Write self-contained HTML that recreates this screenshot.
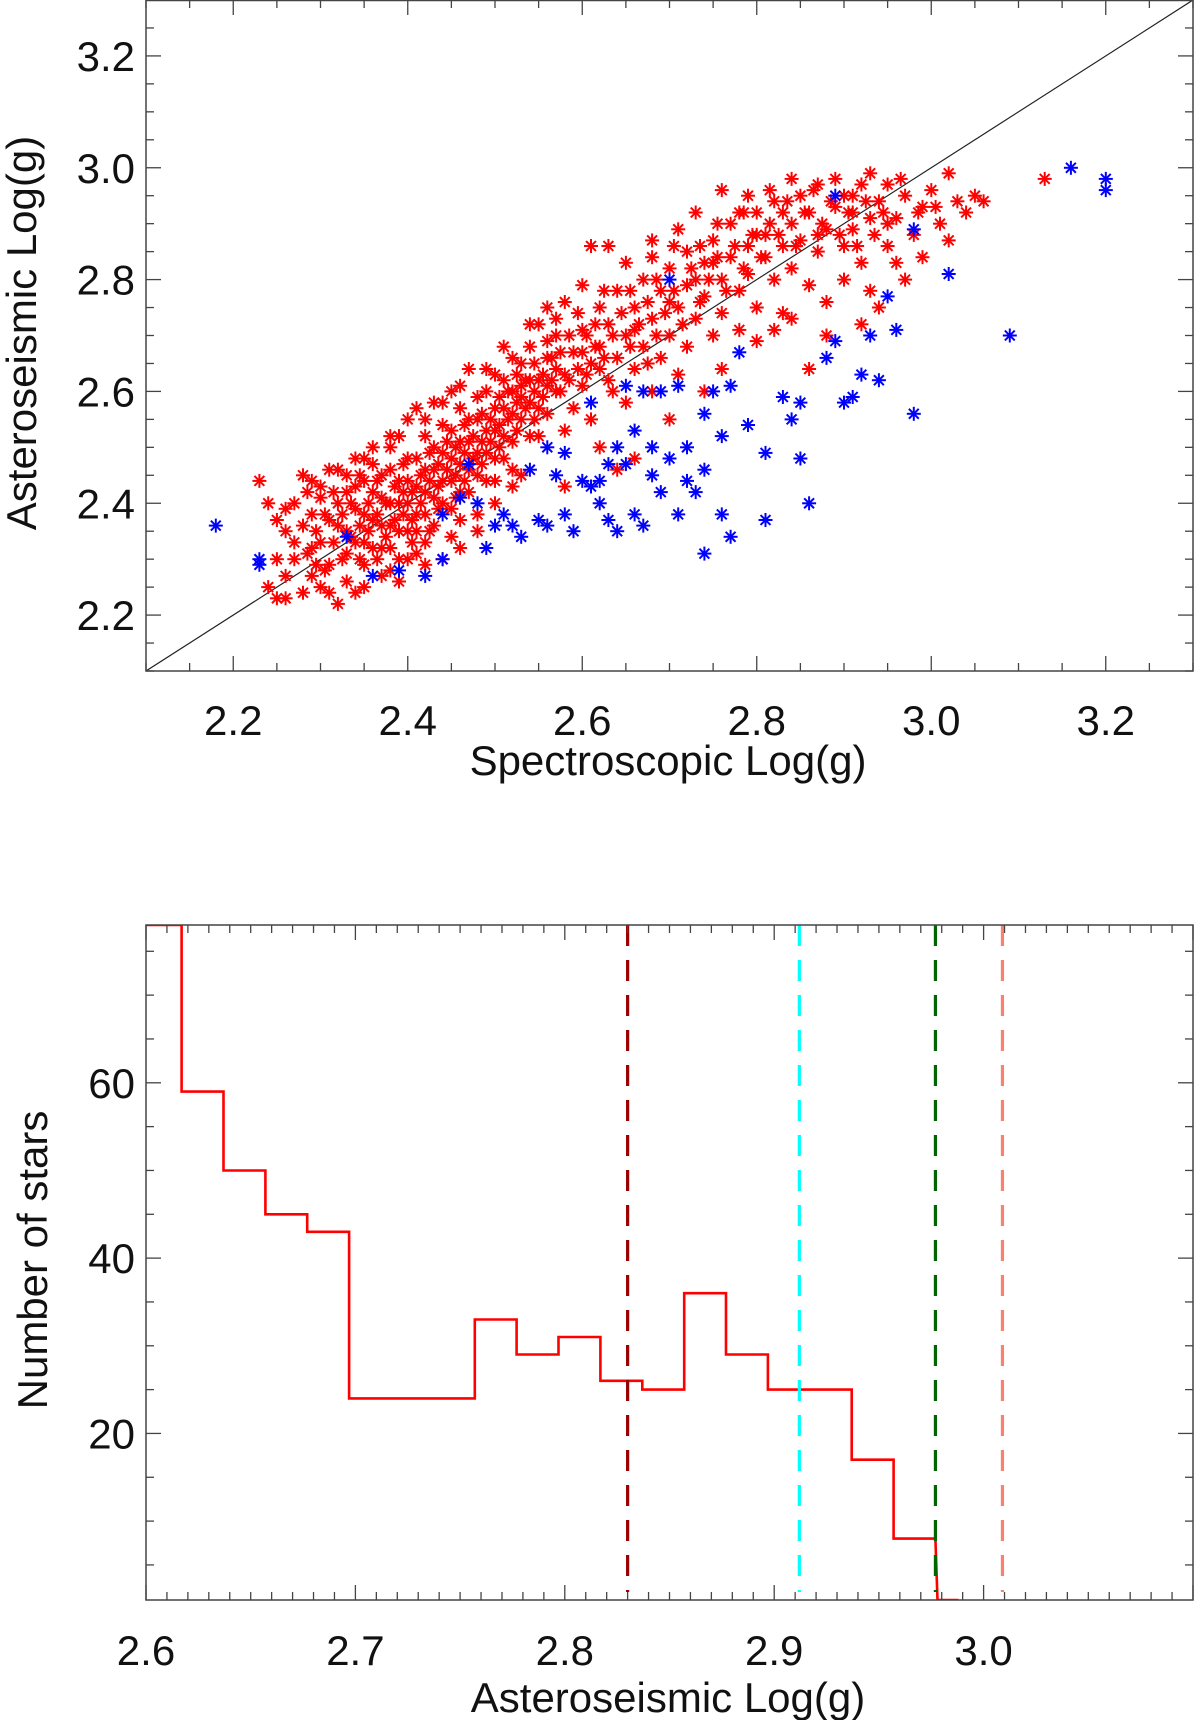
<!DOCTYPE html>
<html><head><meta charset="utf-8">
<style>
html,body{margin:0;padding:0;background:#fff;}
svg{display:block;}
text{font-family:"Liberation Sans",sans-serif;fill:#111;}
</style></head>
<body>
<svg id="fig" width="1200" height="1720" viewBox="0 0 1200 1720" xmlns="http://www.w3.org/2000/svg">
<g id="top"></g>
<g id="bot"></g>
</svg>
<script>
// ---------- data: scatter ----------
const redX = [2.23,2.24,2.25,2.26,2.26,2.27,2.28,2.28,2.29,2.29,2.30,2.30,2.30,2.31,2.31,2.32,2.32,2.33,2.33,2.33,2.34,2.34,2.35,2.35,2.35,2.36,2.36,2.37,2.37,2.37,2.38,2.38,2.39,2.39,2.39,2.40,2.40,2.40,2.41,2.41,2.41,2.42,2.42,2.43,2.43,2.43,2.44,2.44,2.45,2.45,2.45,2.46,2.46,2.47,2.47,2.48,2.48,2.48,2.49,2.49,2.50,2.50,2.50,2.51,2.51,2.52,2.52,2.53,2.53,2.53,2.54,2.54,2.55,2.55,2.56,2.56,2.57,2.57,2.58,2.58,2.59,2.59,2.60,2.60,2.61,2.61,2.61,2.62,2.62,2.63,2.63,2.64,2.64,2.65,2.65,2.66,2.66,2.67,2.67,2.68,2.68,2.69,2.69,2.70,2.70,2.71,2.71,2.72,2.72,2.72,2.73,2.74,2.74,2.75,2.75,2.76,2.76,2.77,2.77,2.78,2.78,2.79,2.79,2.80,2.80,2.81,2.81,2.82,2.82,2.83,2.83,2.84,2.84,2.85,2.85,2.86,2.86,2.87,2.87,2.88,2.88,2.89,2.89,2.90,2.90,2.91,2.91,2.92,2.92,2.93,2.93,2.94,2.95,2.95,2.96,2.96,2.97,2.98,2.99,3.00,3.01,3.02,3.03,3.05,3.06,3.13,2.57,2.63,2.64,2.66,2.70,2.74,2.76,2.78,2.82,2.86,2.92,2.62,2.58,
2.31,2.32,2.33,2.34,2.34,2.35,2.36,2.36,2.37,2.37,2.38,2.38,2.39,2.39,2.40,2.40,2.41,2.41,2.42,2.42,2.43,2.43,2.44,2.44,2.45,2.45,2.46,2.46,2.47,2.47,2.48,2.48,2.49,2.49,2.50,2.50,2.51,2.51,2.52,2.52,2.53,2.54,2.54,2.55,2.56,2.56,2.44,2.42,2.46,2.38,2.40,2.35,2.29,2.28,2.27,2.25,2.26,2.31,2.36,2.33,2.30,2.38,2.41,2.45,2.47,2.52,2.55,2.58,2.60,2.65,2.68,2.71,2.73,2.76,2.79,2.84,2.80,2.84,2.88,2.94,2.97,2.99,3.02,3.04,2.90,2.93,2.70,2.66,2.62,2.68,2.73,2.75,2.80,2.83,2.87,2.91,2.95,2.60,2.57,2.53];
const redY = [2.44,2.40,2.23,2.35,2.23,2.30,2.24,2.45,2.38,2.27,2.33,2.41,2.25,2.46,2.29,2.36,2.22,2.42,2.31,2.26,2.48,2.39,2.44,2.33,2.29,2.37,2.50,2.41,2.32,2.27,2.46,2.36,2.52,2.40,2.30,2.44,2.35,2.55,2.48,2.38,2.31,2.42,2.52,2.46,2.36,2.58,2.49,2.40,2.53,2.44,2.34,2.47,2.57,2.42,2.51,2.55,2.45,2.38,2.60,2.49,2.53,2.44,2.63,2.57,2.48,2.60,2.51,2.65,2.55,2.45,2.58,2.68,2.62,2.52,2.66,2.56,2.60,2.70,2.63,2.53,2.67,2.57,2.71,2.61,2.86,2.65,2.55,2.75,2.68,2.62,2.72,2.78,2.66,2.58,2.70,2.75,2.64,2.80,2.68,2.73,2.60,2.78,2.66,2.82,2.70,2.75,2.63,2.85,2.79,2.68,2.73,2.83,2.77,2.87,2.70,2.80,2.74,2.84,2.90,2.78,2.71,2.86,2.81,2.92,2.75,2.84,2.88,2.80,2.94,2.86,2.74,2.90,2.82,2.95,2.87,2.79,2.92,2.85,2.97,2.89,2.76,2.98,2.93,2.86,2.80,2.95,2.89,2.83,2.97,2.91,2.78,2.94,2.97,2.86,2.91,2.83,2.95,2.88,2.93,2.96,2.90,2.99,2.94,2.95,2.94,2.98,2.73,2.86,2.46,2.48,2.55,2.60,2.64,2.92,2.71,2.64,2.72,2.50,2.43,
2.37,2.40,2.35,2.33,2.43,2.38,2.42,2.32,2.45,2.36,2.40,2.32,2.44,2.35,2.48,2.40,2.43,2.35,2.46,2.38,2.50,2.41,2.44,2.54,2.48,2.39,2.51,2.42,2.46,2.55,2.49,2.59,2.53,2.44,2.57,2.48,2.52,2.62,2.56,2.46,2.59,2.62,2.52,2.57,2.61,2.69,2.30,2.33,2.37,2.28,2.30,2.25,2.32,2.36,2.40,2.37,2.27,2.24,2.47,2.45,2.43,2.52,2.57,2.60,2.64,2.66,2.72,2.76,2.79,2.83,2.87,2.89,2.92,2.96,2.95,2.98,2.69,2.73,2.70,2.75,2.80,2.84,2.87,2.92,2.95,2.99,2.76,2.71,2.64,2.84,2.80,2.83,2.88,2.92,2.88,2.92,2.90,2.67,2.64,2.61];
const redX3 = [2.285,2.285,2.295,2.295,2.305,2.305,2.315,2.315,2.325,2.325,2.335,2.335,2.345,2.345,2.345,2.355,2.355,2.365,2.365,2.365,2.375,2.375,2.385,2.385,2.395,2.395,2.395,2.405,2.405,2.405,2.415,2.415,2.425,2.425,2.425,2.435,2.435,2.435,2.445,2.445,2.455,2.455,2.455,2.465,2.465,2.465,2.475,2.475,2.485,2.485,2.485,2.495,2.495,2.505,2.505,2.505,2.515,2.515,2.525,2.525,2.525,2.535,2.535,2.545,2.545,2.545,2.555,2.555,2.565,2.565,2.575,2.575,2.585,2.585,2.595,2.595,2.605,2.605,2.615,2.615,2.625,2.625,2.635,2.635,2.645,2.655,2.655,2.665,2.675,2.675,2.685,2.685,2.695,2.705,2.705,2.715,2.725,2.735,2.735,2.745,2.755,2.755,2.765,2.775,2.785,2.785,2.795,2.805,2.815,2.815,2.825,2.835,2.845,2.855,2.865,2.875,2.885,2.895,2.905,2.915,2.925,2.935,2.945,2.965,2.985,3.005,2.27,2.25,2.24,2.26,2.29,2.32,2.35,2.38,2.42,2.44,2.46,2.49,2.51,2.54,2.56,2.48,2.50,2.52,2.46,2.39,2.34,2.42];
const redY3 = [2.31,2.42,2.35,2.29,2.38,2.28,2.33,2.42,2.38,2.30,2.40,2.34,2.36,2.30,2.45,2.40,2.35,2.38,2.44,2.30,2.40,2.34,2.43,2.37,2.42,2.38,2.47,2.42,2.37,2.33,2.45,2.40,2.44,2.49,2.35,2.43,2.47,2.39,2.46,2.51,2.45,2.50,2.41,2.49,2.44,2.54,2.48,2.52,2.51,2.47,2.56,2.51,2.55,2.54,2.59,2.50,2.55,2.60,2.58,2.63,2.53,2.57,2.62,2.60,2.65,2.55,2.63,2.59,2.62,2.66,2.60,2.67,2.62,2.70,2.64,2.74,2.70,2.63,2.68,2.72,2.66,2.78,2.70,2.60,2.74,2.68,2.78,2.72,2.76,2.65,2.80,2.70,2.74,2.78,2.86,2.72,2.82,2.86,2.76,2.80,2.90,2.84,2.78,2.86,2.82,2.92,2.88,2.84,2.90,2.96,2.88,2.94,2.86,2.92,2.96,2.90,2.94,2.88,2.92,2.86,2.94,2.88,2.92,2.98,2.92,2.93,2.33,2.30,2.25,2.39,2.44,2.46,2.48,2.50,2.55,2.58,2.61,2.64,2.68,2.72,2.75,2.35,2.40,2.43,2.32,2.26,2.24,2.29];
const blueX = [2.18,2.23,2.23,2.33,2.36,2.39,2.42,2.44,2.46,2.47,2.49,2.51,2.52,2.53,2.55,2.56,2.57,2.58,2.59,2.60,2.61,2.62,2.63,2.64,2.64,2.65,2.66,2.66,2.67,2.68,2.68,2.69,2.70,2.70,2.71,2.71,2.72,2.73,2.74,2.74,2.74,2.75,2.76,2.76,2.77,2.77,2.78,2.79,2.81,2.81,2.83,2.84,2.85,2.85,2.86,2.88,2.89,2.89,2.93,2.95,2.96,2.98,2.98,3.02,3.09,3.16,3.20,3.20,2.61,2.65,2.67,2.56,2.54,2.48,2.44,2.50,2.58,2.69,2.72,2.90,2.91,2.94,2.92,2.62,2.63];
const blueY = [2.36,2.29,2.30,2.34,2.27,2.28,2.27,2.30,2.41,2.47,2.32,2.38,2.36,2.34,2.37,2.36,2.45,2.38,2.35,2.44,2.43,2.40,2.37,2.35,2.50,2.47,2.38,2.53,2.36,2.45,2.50,2.42,2.80,2.48,2.38,2.61,2.50,2.42,2.31,2.46,2.56,2.60,2.38,2.52,2.34,2.61,2.67,2.54,2.49,2.37,2.59,2.55,2.58,2.48,2.40,2.66,2.95,2.69,2.70,2.77,2.71,2.56,2.89,2.81,2.70,3.00,2.96,2.98,2.58,2.61,2.60,2.50,2.46,2.40,2.38,2.36,2.49,2.60,2.44,2.58,2.59,2.62,2.63,2.44,2.47];
const topTicks = ["2.2","2.4","2.6","2.8","3.0","3.2"];
// ---------- data: histogram ----------
const binCenters = [2.607,2.627,2.647,2.667,2.687,2.707,2.727,2.747,2.767,2.787,2.807,2.827,2.847,2.867,2.887,2.907,2.927,2.947,2.967,2.988];
const binCounts = [78,59,50,45,43,24,24,24,33,29,31,26,25,36,29,25,25,17,8,1];
const histXTicks = ["2.6","2.7","2.8","2.9","3.0"];
const histYTicks = ["20","40","60"];
const refLines = [2.830,2.912,2.977,3.009];
const refColors = ["#9a0000","#00ffff","#006400","#fa8072"];

const NS="http://www.w3.org/2000/svg";
function mk(tag, parent, attrs){const e=document.createElementNS(NS,tag);for(const k in attrs)e.setAttribute(k,attrs[k]);parent.appendChild(e);return e;}

// ----- top scatter -----
const T=document.getElementById('top');
const L=146,R=1193,TT=0,TB=671;
const sx=v=>L+(v-2.1)/1.2*(R-L);
const sy=v=>TB-(v-2.1)/1.2*(TB-TT);
function star(g,x,y,c,name){
  const s=mk('g',g,{transform:`translate(${x.toFixed(1)},${y.toFixed(1)})`,stroke:c,'stroke-width':2});
  
  
  const r=7,d=r*0.7071;
  mk('line',s,{x1:-r,y1:0,x2:r,y2:0});mk('line',s,{x1:0,y1:-r,x2:0,y2:r});
  mk('line',s,{x1:-d,y1:-d,x2:d,y2:d});mk('line',s,{x1:-d,y1:d,x2:d,y2:-d});
}
const clipT=mk('clipPath',T,{id:'ct'});mk('rect',clipT,{x:L,y:TT,width:R-L,height:TB-TT});
const pts=mk('g',T,{'clip-path':'url(#ct)'});


const dl=mk('line',pts,{x1:sx(2.1),y1:sy(2.1),x2:sx(3.3),y2:sy(3.3),stroke:'#222','stroke-width':1.2});


redX.forEach((v,i)=>star(pts,sx(v),sy(redY[i]),'#ff0000','red-star'));
redX3.forEach((v,i)=>star(pts,sx(v),sy(redY3[i]),'#ff0000','red-star'));
blueX.forEach((v,i)=>star(pts,sx(v),sy(blueY[i]),'#0000ff','blue-star'));
const fr=mk('rect',T,{x:L,y:TT+0.5,width:R-L,height:TB-TT-0.5,fill:'none',stroke:'#444','stroke-width':1.5});


for(let k=0;k<=24;k++){const v=2.1+k*0.05;const maj=(k%4==2);const len=maj?15:8;
  const x=sx(v),y=sy(v);
  mk('line',T,{x1:x,y1:TB,x2:x,y2:TB-len,stroke:'#444','stroke-width':1.3});
  mk('line',T,{x1:x,y1:TT,x2:x,y2:TT+len,stroke:'#444','stroke-width':1.3});
  mk('line',T,{x1:L,y1:y,x2:L+len,y2:y,stroke:'#444','stroke-width':1.3});
  mk('line',T,{x1:R,y1:y,x2:R-len,y2:y,stroke:'#444','stroke-width':1.3});
}
topTicks.forEach(t=>{const v=parseFloat(t);
  const a=mk('text',T,{x:sx(v),y:735,'font-size':42,'text-anchor':'middle'});a.textContent=t;
  
  
  const b=mk('text',T,{x:135,y:sy(v)+15,'font-size':42,'text-anchor':'end'});b.textContent=t;
  
  
});
const xt=mk('text',T,{x:668,y:775,'font-size':42,'text-anchor':'middle'});xt.textContent='Spectroscopic Log(g)';


const yt=mk('text',T,{x:0,y:0,'font-size':42,'text-anchor':'middle',transform:'translate(36,333) rotate(-90)'});yt.textContent='Asteroseismic Log(g)';



// ----- bottom histogram -----
const B=document.getElementById('bot');
const BT=925,BB=1600;
const hx=v=>L+(v-2.6)/0.5*(R-L);
const hy=v=>BB-(v-1)/77*(BB-BT);
const clipB=mk('clipPath',B,{id:'cb'});mk('rect',clipB,{x:L,y:BT,width:R-L,height:BB-BT});
const hg=mk('g',B,{'clip-path':'url(#cb)'});
let d='';
binCenters.forEach((c,i)=>{
  const last=(i==binCenters.length-1);
  const x0=last?2.978:c-0.01, x1=c+(last?0:0.01);
  d+=(i==0?'M':'L')+hx(x0).toFixed(1)+','+hy(binCounts[i]).toFixed(1)+'L'+hx(x1).toFixed(1)+','+hy(binCounts[i]).toFixed(1);
});
const hp=mk('path',hg,{d:d,fill:'none',stroke:'#ff0000','stroke-width':2.6});


refLines.forEach((v,i)=>{
  const l=mk('line',hg,{x1:hx(v),y1:BT,x2:hx(v),y2:BB-8,stroke:refColors[i],'stroke-width':3.2,'stroke-dasharray':'21 14'});
  
  
});
const fb=mk('rect',B,{x:L,y:BT,width:R-L,height:BB-BT,fill:'none',stroke:'#444','stroke-width':1.5});


for(let k=0;k<=50;k++){const v=2.6+k*0.01;const len=(k%10==0)?15:8;const x=hx(v);
  mk('line',B,{x1:x,y1:BB,x2:x,y2:BB-len,stroke:'#444','stroke-width':1.3});
  mk('line',B,{x1:x,y1:BT,x2:x,y2:BT+len,stroke:'#444','stroke-width':1.3});
}
for(let v=5;v<=75;v+=5){const len=(v%20==0)?15:8;const y=hy(v);
  mk('line',B,{x1:L,y1:y,x2:L+len,y2:y,stroke:'#444','stroke-width':1.3});
  mk('line',B,{x1:R,y1:y,x2:R-len,y2:y,stroke:'#444','stroke-width':1.3});
}
histXTicks.forEach(t=>{const a=mk('text',B,{x:hx(parseFloat(t)),y:1665,'font-size':42,'text-anchor':'middle'});a.textContent=t;
  
  });
histYTicks.forEach(t=>{const a=mk('text',B,{x:135,y:hy(parseFloat(t))+15,'font-size':42,'text-anchor':'end'});a.textContent=t;
  
  });
const bx=mk('text',B,{x:668,y:1712,'font-size':42,'text-anchor':'middle'});bx.textContent='Asteroseismic Log(g)';


const by=mk('text',B,{x:0,y:0,'font-size':42,'text-anchor':'middle',transform:'translate(47,1260) rotate(-90)'});by.textContent='Number of stars';


</script>
</body></html>
